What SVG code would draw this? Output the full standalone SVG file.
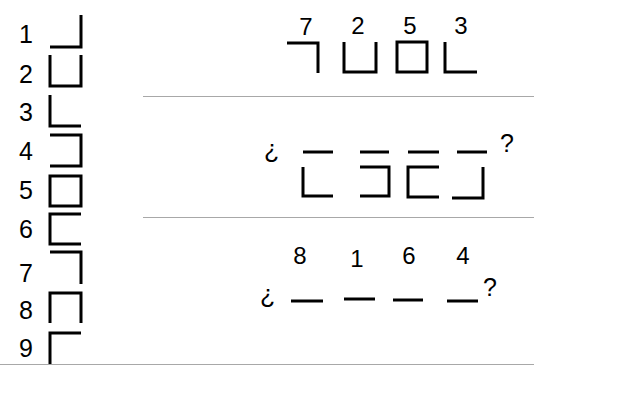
<svg xmlns="http://www.w3.org/2000/svg" width="640" height="400" viewBox="0 0 640 400">
<style>
.s{fill:none;stroke:#000;stroke-width:3;stroke-linejoin:miter;stroke-linecap:butt}
.t{font-family:"Liberation Sans",Arial,sans-serif;font-size:25px;fill:#000}
.n{font-family:"Liberation Sans",Arial,sans-serif;font-size:24px;fill:#000;text-anchor:middle}
.d{stroke:#a8a8a8;stroke-width:1.2}
</style>
<rect width="640" height="400" fill="#fff"/>
<g id="legend">
<g id="k1"><text class="t" x="19" y="43">1</text><polyline class="s" points="50,47 81,47 81,15"/></g>
<g id="k2"><text class="t" x="19" y="83">2</text><polyline class="s" points="50,55 50,86 81,86 81,55"/></g>
<g id="k3"><text class="t" x="19" y="121">3</text><polyline class="s" points="50,95 50,126 81,126"/></g>
<g id="k4"><text class="t" x="19" y="160">4</text><polyline class="s" points="50,135 81,135 81,166 50,166"/></g>
<g id="k5"><text class="t" x="19" y="199">5</text><rect class="s" x="50" y="176" width="31" height="30"/></g>
<g id="k6"><text class="t" x="19" y="238">6</text><polyline class="s" points="81,214 50,214 50,244 81,244"/></g>
<g id="k7"><text class="t" x="19" y="282">7</text><polyline class="s" points="50,252 81,252 81,284"/></g>
<g id="k8"><text class="t" x="19" y="319">8</text><polyline class="s" points="50,323 50,293 81,293 81,323"/></g>
<g id="k9"><text class="t" x="19" y="357">9</text><polyline class="s" points="50,364 50,333 81,333"/></g>
</g>
<g id="row1">
<text class="n" x="306" y="35">7</text><polyline class="s" points="287,43 318,43 318,73"/>
<text class="n" x="358" y="34">2</text><polyline class="s" points="344,42 344,72 376,72 376,42"/>
<text class="n" x="410" y="34">5</text><rect class="s" x="397" y="42" width="30" height="30"/>
<text class="n" x="461" y="34">3</text><polyline class="s" points="445,42 445,72 477,72"/>
</g>
<g id="row2">
<text class="t" x="264" y="158">¿</text>
<line class="s" x1="303" y1="152" x2="333" y2="152"/><polyline class="s" points="303,167 303,196 333,196"/>
<line class="s" x1="360" y1="152" x2="389" y2="152"/><polyline class="s" points="360,167 389,167 389,196 360,196"/>
<line class="s" x1="408" y1="152" x2="439" y2="152"/><polyline class="s" points="439,167 408,167 408,197 439,197"/>
<line class="s" x1="457" y1="152" x2="487" y2="152"/><polyline class="s" points="483,167 483,198 452,198"/>
<text class="t" x="500" y="152">?</text>
</g>
<g id="row3">
<text class="n" x="300" y="264">8</text>
<text class="n" x="357" y="267">1</text>
<text class="n" x="409" y="264">6</text>
<text class="n" x="463" y="264">4</text>
<text class="t" x="260" y="303">¿</text>
<line class="s" x1="291" y1="301" x2="323" y2="301"/>
<line class="s" x1="344" y1="299" x2="375" y2="299"/>
<line class="s" x1="393" y1="300" x2="423" y2="300"/>
<line class="s" x1="447" y1="301" x2="478" y2="301"/>
<text class="t" x="483" y="296">?</text>
</g>
<g id="connectors">
<line class="d" x1="143" y1="96.5" x2="534" y2="96.5"/>
<line class="d" x1="143" y1="217.5" x2="534" y2="217.5"/>
<line class="d" x1="0" y1="364.5" x2="534" y2="364.5"/>
</g>
</svg>
